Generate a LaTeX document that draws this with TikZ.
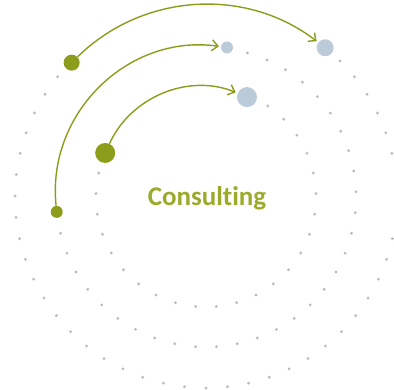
\documentclass[tikz,border=0pt]{standalone}
\usepackage{fontspec}
\setmainfont{Carlito}[Ligatures=NoCommon]
\usetikzlibrary{arrows.meta}
\definecolor{olive}{HTML}{8C9D1C}
\definecolor{oliveText}{HTML}{9AAB2B}
\definecolor{mist}{HTML}{BCCBDA}
\definecolor{dotgray}{HTML}{BDBDBD}

\begin{document}
\begin{tikzpicture}[
  x=1pt, y=1pt,
  src/.style={circle, fill=olive, inner sep=0pt},
  dst/.style={circle, fill=mist, inner sep=0pt},
  orbit/.style={fill=dotgray},
  arr/.style={-{Straight Barb[length=6pt,width=11pt]}, olive, line width=1.4pt, shorten >=2pt}
]
\useasboundingbox (-206,-192) rectangle (188,197);

% ---- dotted orbits ----
\foreach \a in {167.4,178.2,...,416} \fill[orbit] (\a:110) circle (1.6);
\foreach \a in {194,202,...,435} \fill[orbit] (\a:150) circle (1.6);
\foreach \a in {141,147.45,...,406} \fill[orbit] (\a:191) circle (1.6);

% ---- start and end points ----
\node[src, minimum size=16pt] (s1) at (135:190) {};
\node[src, minimum size=12pt] (s2) at (185.7:150) {};
\node[src, minimum size=20pt] (s3) at (156.4:110) {};
\node[dst, minimum size=17pt] (t1) at (51.4:191) {};
\node[dst, minimum size=12pt] (t2) at (82:151) {};
\node[dst, minimum size=20pt] (t3) at (67.7:108) {};

% ---- arcs ----
\draw[arr] (s1) to[bend left=41, looseness=0.97] (t1);
\draw[arr] (s2) to[bend left=52, looseness=1.04] (t2);
\draw[arr] (s3) to[bend left=44, looseness=0.97] (t3);

\node[text=oliveText, font=\bfseries\fontsize{27}{31}\selectfont] (title) at (1,-1.5) {Consulting};

\end{tikzpicture}
\end{document}
